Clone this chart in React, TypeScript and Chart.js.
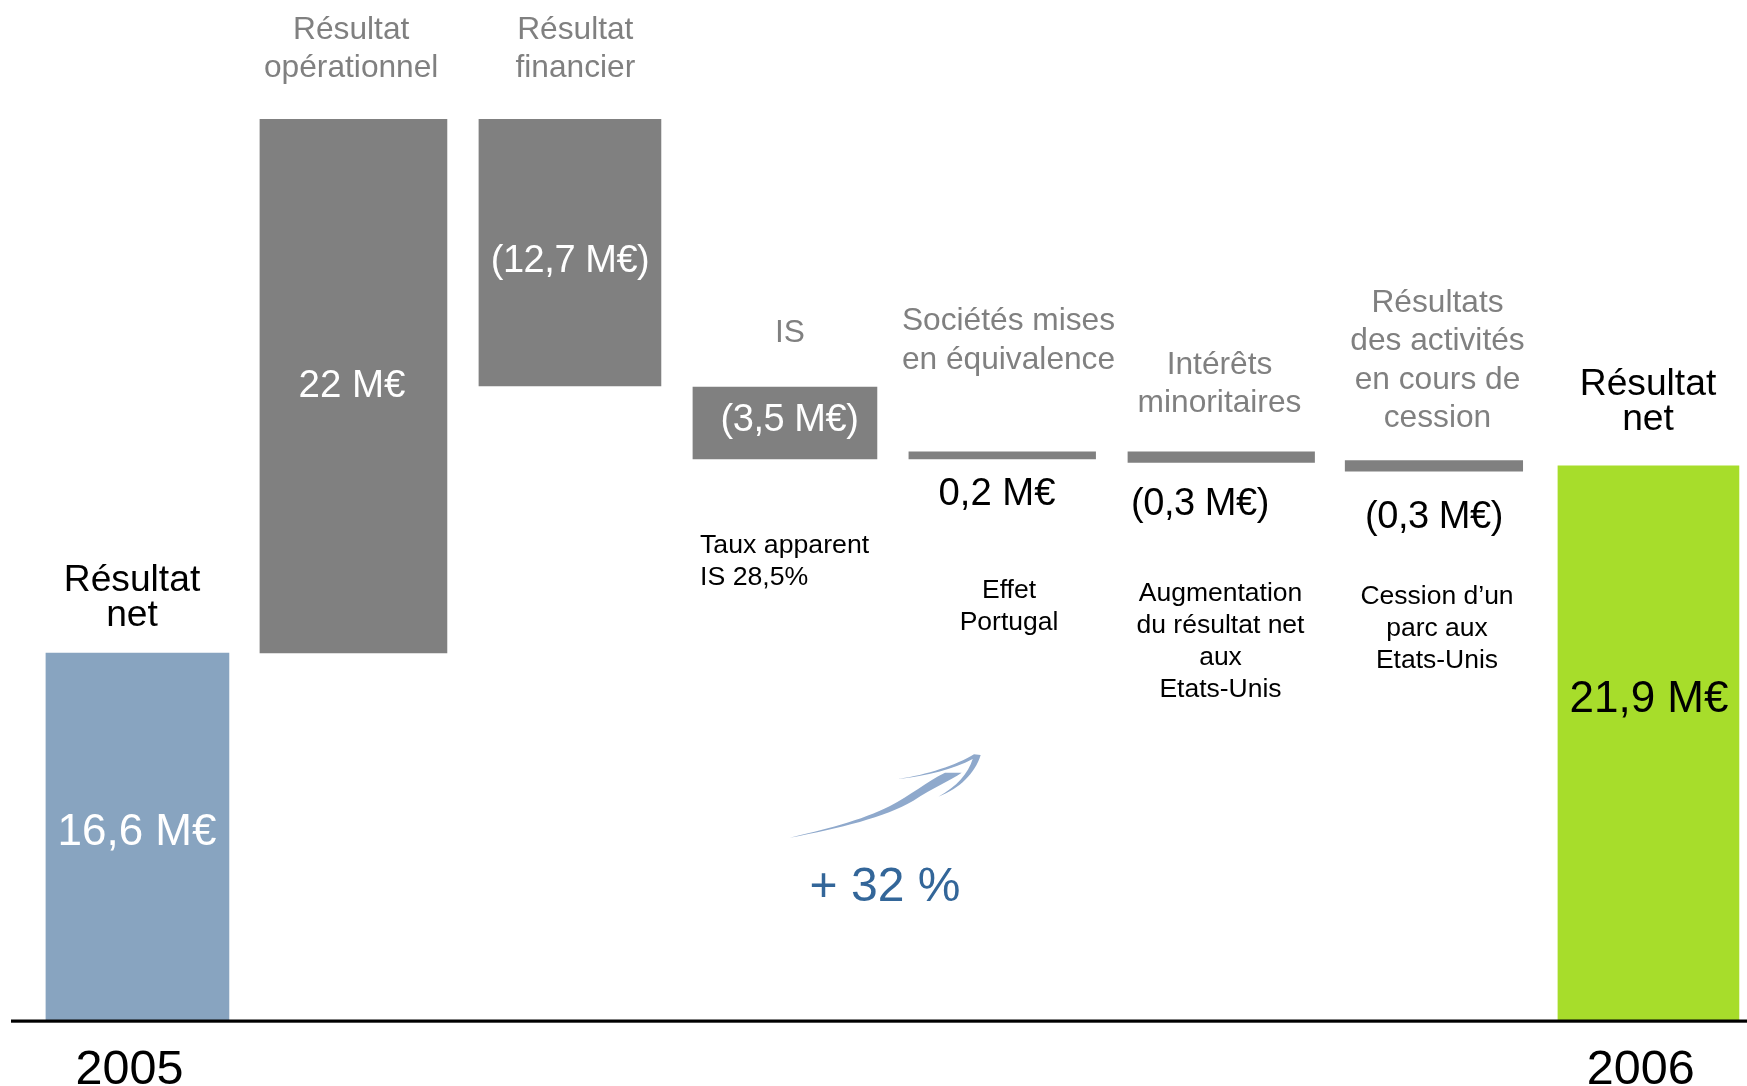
import React, { useEffect, useRef } from "react";
import { Chart, LinearScale, registerables } from "chart.js";

const FONT = '"Liberation Sans", Arial, sans-serif';

// Waterfall steps in M€, bottom and top of each bar.
const categories = ["2005", "", "", "", "", "", "", "2006"];
const barLows = [0, 16.6, 25.9, 22.1, 22.1, 22.0, 21.75, 0];
const barHighs = [16.6, 38.6, 38.6, 25.6, 22.3, 22.3, 22.05, 21.9];

const barColors = ["#88a4c0", "#808080", "#808080", "#808080", "#808080", "#808080", "#808080", "#a7dd2b"];
const barWidths = [183, 187, 182, 184, 186.7, 186.6, 177.5, 181];
const barNudges = [0, 0.1, 0.7, -0.2, 1.2, 4.3, 1.1, -0.3];

// The slide's hidden value axis is not drawn to a single scale: value -> share of axis height.
const axisValues = [0, 16.6, 22.3, 25.6, 25.9, 38.6];
const axisShares = [0, 0.408, 0.631, 0.7029, 0.704, 1];

type Note = {
  lines: string[];
  x: number;
  y: number;
  size: number;
  gap: number;
  color: string;
  align?: CanvasTextAlign;
  tight?: boolean;
};

const GREY = "#808080";
const BLACK = "#000000";
const WHITE = "#ffffff";

const headingNotes: Note[] = [
  { lines: ["Résultat", "opérationnel"], x: 351.2, y: 39, size: 31.7, gap: 38, color: GREY },
  { lines: ["Résultat", "financier"], x: 575.3, y: 39, size: 31.7, gap: 38, color: GREY },
  { lines: ["IS"], x: 790, y: 342, size: 31.7, gap: 38, color: GREY },
  { lines: ["Sociétés mises", "en équivalence"], x: 1008.5, y: 330, size: 31.7, gap: 38.5, color: GREY },
  { lines: ["Intérêts", "minoritaires"], x: 1219.5, y: 374, size: 31.7, gap: 38, color: GREY },
  { lines: ["Résultats", "des activités", "en cours de", "cession"], x: 1437.5, y: 312, size: 31.7, gap: 38.3, color: GREY },
  { lines: ["Résultat", "net"], x: 132, y: 591, size: 37.2, gap: 35, color: BLACK },
  { lines: ["Résultat", "net"], x: 1648, y: 395, size: 37.2, gap: 35, color: BLACK },
];

const valueNotes: Note[] = [
  { lines: ["16,6 M€"], x: 137, y: 845, size: 44, gap: 0, color: WHITE },
  { lines: ["22 M€"], x: 352, y: 397, size: 38.5, gap: 0, color: WHITE },
  { lines: ["(12,7 M€)"], x: 570, y: 272, size: 38, gap: 0, color: WHITE, tight: true },
  { lines: ["(3,5 M€)"], x: 789.5, y: 431, size: 38, gap: 0, color: WHITE, tight: true },
  { lines: ["0,2 M€"], x: 997, y: 505, size: 38.3, gap: 0, color: BLACK },
  { lines: ["(0,3 M€)"], x: 1200, y: 515, size: 38, gap: 0, color: BLACK, tight: true },
  { lines: ["(0,3 M€)"], x: 1434, y: 528, size: 38, gap: 0, color: BLACK, tight: true },
  { lines: ["21,9 M€"], x: 1649, y: 712, size: 44, gap: 0, color: BLACK },
  { lines: ["+ 32 %"], x: 885, y: 901, size: 48, gap: 0, color: "#336699" },
];

const commentNotes: Note[] = [
  { lines: ["Taux apparent", "IS 28,5%"], x: 700, y: 553, size: 26.7, gap: 32, color: BLACK, align: "left" },
  { lines: ["Effet", "Portugal"], x: 1009, y: 598, size: 26.5, gap: 32, color: BLACK },
  { lines: ["Augmentation", "du résultat net", "aux", "Etats-Unis"], x: 1220.5, y: 601, size: 26.5, gap: 32, color: BLACK },
  { lines: ["Cession d’un", "parc aux", "Etats-Unis"], x: 1437, y: 603.5, size: 26.5, gap: 32, color: BLACK },
];

// Value axis stretched piece by piece between the anchors above.
class PiecewiseScale extends LinearScale {
  static id = "piecewise";
  getPixelForValue(value: number) {
    let i = 0;
    while (i < axisValues.length - 2 && value > axisValues[i + 1]) i++;
    const t = (value - axisValues[i]) / (axisValues[i + 1] - axisValues[i]);
    return this.getPixelForDecimal(axisShares[i] + t * (axisShares[i + 1] - axisShares[i]));
  }
}

Chart.register(...registerables, PiecewiseScale);

const nudgeBars = {
  id: "nudgeBars",
  afterDatasetsUpdate(chart: Chart) {
    chart.data.datasets.forEach((_, i) => {
      const bar = chart.getDatasetMeta(i).data[i] as any;
      if (bar) bar.x += barNudges[i];
    });
  },
};

// Brush-stroke arrow above the growth figure.
function drawSwoosh(ctx: CanvasRenderingContext2D) {
  ctx.save();
  ctx.translate(770, 730);
  ctx.scale(1 / 3, 1 / 3);
  ctx.fillStyle = "#8fa9cc";
  ctx.beginPath();
  ctx.moveTo(60, 323);
  ctx.bezierCurveTo(150, 302, 280, 270, 360, 228);
  ctx.bezierCurveTo(420, 197, 470, 155, 525, 128);
  ctx.lineTo(575, 128);
  ctx.bezierCurveTo(545, 150, 490, 172, 430, 212);
  ctx.bezierCurveTo(345, 262, 210, 294, 60, 323);
  ctx.fill();
  ctx.beginPath();
  ctx.moveTo(385, 147);
  ctx.bezierCurveTo(470, 135, 560, 105, 612, 73);
  ctx.lineTo(632, 75);
  ctx.bezierCurveTo(615, 130, 570, 175, 505, 200);
  ctx.bezierCurveTo(560, 170, 595, 130, 608, 87);
  ctx.bezierCurveTo(550, 118, 470, 138, 385, 147);
  ctx.fill();
  ctx.restore();
}

const slideDecor = {
  id: "slideDecor",
  afterDraw(chart: Chart) {
    const ctx = chart.ctx as any;
    const zero = chart.scales.y.getPixelForValue(0);
    ctx.save();
    ctx.fillStyle = "#000000";
    ctx.fillRect(11, zero - 1.5, chart.width, 3.2);
    for (const note of [...headingNotes, ...valueNotes, ...commentNotes]) {
      ctx.font = `${note.size}px ${FONT}`;
      ctx.fillStyle = note.color;
      ctx.textAlign = note.align ?? "center";
      ctx.textBaseline = "alphabetic";
      ctx.letterSpacing = note.tight ? "-0.45px" : "0px";
      note.lines.forEach((line, i) => ctx.fillText(line, note.x, note.y + i * note.gap));
    }
    ctx.restore();
    drawSwoosh(ctx);
  },
};

export default function App() {
  const ref = useRef<HTMLCanvasElement>(null);
  useEffect(() => {
    const chart = new Chart(ref.current!, {
      type: "bar",
      data: {
        labels: categories,
        datasets: categories.map((_, i) => ({
          data: categories.map((_, j) => (j === i ? [barLows[i], barHighs[i]] : null)),
          backgroundColor: barColors[i],
          barThickness: barWidths[i],
          borderWidth: 0,
          grouped: false,
        })) as any,
      },
      options: {
        animation: false,
        responsive: false,
        layout: { padding: { left: 29.5, right: 3.3, top: 119, bottom: 0 } },
        plugins: { legend: { display: false }, tooltip: { enabled: false } },
        scales: {
          x: {
            grid: { display: false },
            border: { display: false },
            afterFit: (scale: any) => {
              scale.height = 65;
            },
            ticks: {
              autoSkip: false,
              maxRotation: 0,
              minRotation: 0,
              labelOffset: -8,
              padding: 13,
              color: "#000000",
              font: { family: FONT, size: 48.5 },
            },
          },
          y: { type: "piecewise" as any, display: false, min: 0, max: 38.6 },
        },
      },
      plugins: [nudgeBars, slideDecor],
    });
    return () => chart.destroy();
  }, []);
  return (
    <div style={{ position: "absolute", left: 0, top: 0, width: 1747, height: 1086, overflow: "hidden", background: "#fff" }}>
      <canvas ref={ref} width={1760} height={1086} style={{ display: "block" }} />
    </div>
  );
}
